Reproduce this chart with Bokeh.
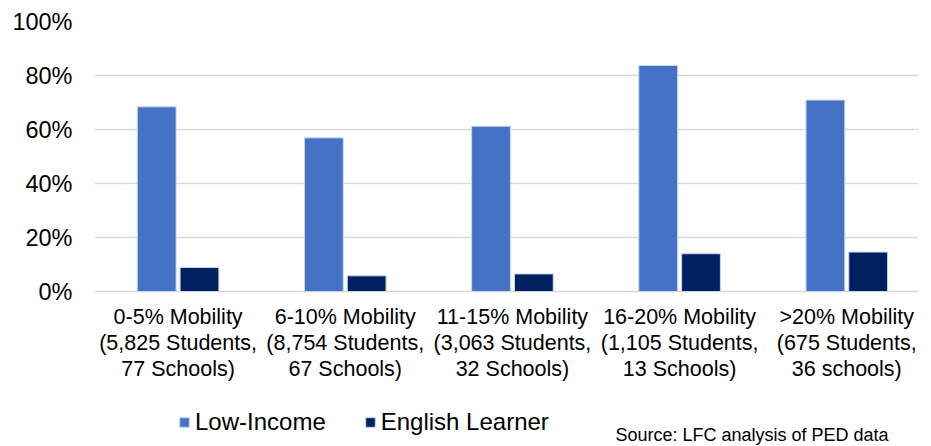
from bokeh.plotting import figure
from bokeh.models import (Range1d, FixedTicker, NumeralTickFormatter, Legend,
                          LegendItem, Label, ColumnDataSource)
from bokeh.embed import file_html
from bokeh.resources import INLINE

# ---- data ----
categories = [
    "0-5% Mobility\n(5,825 Students,\n77 Schools)",
    "6-10% Mobility\n(8,754 Students,\n67 Schools)",
    "11-15% Mobility\n(3,063 Students,\n32 Schools)",
    "16-20% Mobility\n(1,105 Students,\n13 Schools)",
    ">20% Mobility\n(675 Students,\n36 schools)",
]
low_income = [0.684, 0.569, 0.612, 0.837, 0.709]
english_learner = [0.089, 0.058, 0.065, 0.140, 0.146]
series_names = ["Low-Income", "English Learner"]
y_ticks = [0.0, 0.2, 0.4, 0.6, 0.8, 1.0]
source_note = "Source: LFC analysis of PED data"

# ---- style ----
FONT = "Liberation Sans"
C_LI = "#4472C4"
C_EL = "#002060"
GRID = "#d9d9d9"
BAR_W = 0.232
OFFSET = 0.128

centers = [i + 0.5 for i in range(len(categories))]
src = ColumnDataSource(dict(
    x_li=[c - OFFSET for c in centers],
    x_el=[c + OFFSET for c in centers],
    li=low_income,
    el=english_learner,
))

# frame: 94..918 px horizontally, 21..446 px vertically (0..100% spans 270 px)
p = figure(width=931, height=446, output_backend="svg", toolbar_location=None,
           x_range=Range1d(0, 4.929), y_range=Range1d(-155 / 270, 1.0),
           min_border_left=94, min_border_right=13, min_border_top=21,
           min_border_bottom=0)
p.outline_line_color = None
p.background_fill_color = "white"
p.border_fill_color = "white"

r1 = p.vbar(x="x_li", top="li", bottom=0, width=BAR_W, source=src,
            fill_color=C_LI, line_color="#c9d6ee", line_width=1)
r2 = p.vbar(x="x_el", top="el", bottom=0, width=BAR_W, source=src,
            fill_color=C_EL, line_color="#c9d6ee", line_width=1)

# grid
p.xgrid.visible = False
p.ygrid.ticker = FixedTicker(ticks=y_ticks)
p.ygrid.grid_line_color = GRID
p.ygrid.grid_line_width = 1.3

# y axis
p.yaxis.ticker = FixedTicker(ticks=y_ticks)
p.yaxis.formatter = NumeralTickFormatter(format="0%")
p.yaxis.axis_line_color = None
p.yaxis.major_tick_line_color = None
p.yaxis.minor_tick_line_color = None
p.yaxis.major_tick_out = 0
p.yaxis.major_tick_in = 0
p.yaxis.major_label_standoff = 22
p.yaxis.major_label_text_font = FONT
p.yaxis.major_label_text_font_size = "23.5px"
p.yaxis.major_label_text_color = "#000000"

# x axis, pinned at 0%
p.xaxis.fixed_location = 0
p.xaxis.ticker = FixedTicker(ticks=centers)
p.xaxis.major_label_overrides = {c: lab for c, lab in zip(centers, categories)}
p.xaxis.axis_line_color = None
p.xaxis.major_tick_line_color = None
p.xaxis.minor_tick_line_color = None
p.xaxis.major_tick_out = 0
p.xaxis.major_tick_in = 0
p.xaxis.major_label_standoff = 13
p.xaxis.major_label_text_font = FONT
p.xaxis.major_label_text_font_size = "21.5px"
p.xaxis.major_label_text_line_height = 1.1
p.xaxis.major_label_text_color = "#000000"
p.xaxis.major_label_text_align = "center"

# legend
legend = Legend(items=[LegendItem(label=series_names[0], renderers=[r1]),
                       LegendItem(label=series_names[1], renderers=[r2])],
                location=(84, 10), orientation="horizontal",
                glyph_width=12, glyph_height=12, label_standoff=5, spacing=38,
                padding=0, margin=0, border_line_color=None,
                background_fill_alpha=0,
                label_text_font=FONT, label_text_font_size="24px",
                label_text_color="#000000")
p.add_layout(legend)

# source note
p.add_layout(Label(x=521, y=12, x_units="screen", y_units="screen",
                   text=source_note, text_font=FONT, text_font_size="18px",
                   text_color="#000000", text_baseline="alphabetic"))

open("out.html", "w").write(file_html(p, INLINE))
